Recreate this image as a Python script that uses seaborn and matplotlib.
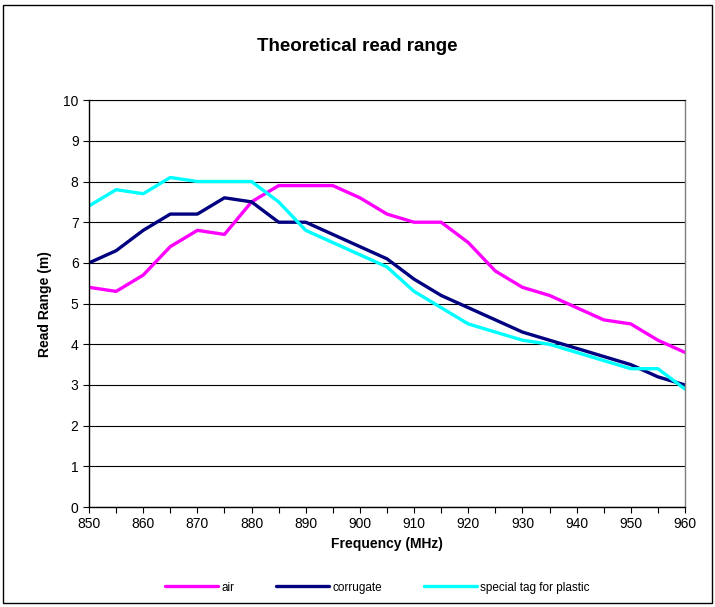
import numpy as np
import pandas as pd
import matplotlib
matplotlib.use('Agg')
import matplotlib.pyplot as plt
from matplotlib.patches import Rectangle
import seaborn as sns

# --- Data ---
freq = [850, 855, 860, 865, 870, 875, 880, 885, 890, 895, 900, 905,
        910, 915, 920, 925, 930, 935, 940, 945, 950, 955, 960]
air = [5.4, 5.3, 5.7, 6.4, 6.8, 6.7, 7.5, 7.9, 7.9, 7.9, 7.6, 7.2,
       7.0, 7.0, 6.5, 5.8, 5.4, 5.2, 4.9, 4.6, 4.5, 4.1, 3.8]
corrugate = [6.0, 6.3, 6.8, 7.2, 7.2, 7.6, 7.5, 7.0, 7.0, 6.7, 6.4, 6.1,
             5.6, 5.2, 4.9, 4.6, 4.3, 4.1, 3.9, 3.7, 3.5, 3.2, 3.0]
plastic = [7.4, 7.8, 7.7, 8.1, 8.0, 8.0, 8.0, 7.5, 6.8, 6.5, 6.2, 5.9,
           5.3, 4.9, 4.5, 4.3, 4.1, 4.0, 3.8, 3.6, 3.4, 3.4, 2.9]
series_names = ['air', 'corrugate', 'special tag for plastic']
series_colors = ['#FF00FF', '#000080', '#00FFFF']

df = pd.DataFrame({
    'Frequency (MHz)': freq * 3,
    'Read Range (m)': air + corrugate + plastic,
    'series': np.repeat(series_names, len(freq)),
})

sns.set_style('white')
plt.rcParams['font.family'] = ['Liberation Sans', 'DejaVu Sans']
plt.rcParams['text.color'] = 'black'
plt.rcParams['axes.labelcolor'] = 'black'
plt.rcParams['xtick.color'] = 'black'
plt.rcParams['ytick.color'] = 'black'

fig = plt.figure(figsize=(7.15, 6.07), dpi=100)
ax = fig.add_axes([0.1245, 0.1647, 0.8335, 0.6703])

sns.lineplot(data=df, x='Frequency (MHz)', y='Read Range (m)', hue='series',
             palette=dict(zip(series_names, series_colors)), linewidth=2.4,
             ax=ax, legend=False)

ax.set_xlim(850, 960)
ax.set_ylim(0, 10)
ax.set_xticks(range(850, 961, 10))
ax.set_xticks(range(850, 961, 5), minor=True)
ax.set_yticks(range(0, 11))
ax.tick_params(axis='both', which='both', direction='out', length=4, width=0.8,
               labelsize=10, color='black', labelcolor='black', bottom=True, left=True)
ax.yaxis.grid(True, color='black', linewidth=0.8)
ax.set_axisbelow(True)

for s in ['left', 'bottom']:
    ax.spines[s].set_color('black')
    ax.spines[s].set_linewidth(1.0)
ax.spines['right'].set_color('#808080')
ax.spines['right'].set_linewidth(1.0)
ax.spines['top'].set_color('black')
ax.spines['top'].set_linewidth(0.8)

ax.set_xlabel('Frequency (MHz)', fontsize=10, fontweight='bold', labelpad=4, color='black')
ax.set_ylabel('Read Range (m)', fontsize=10, fontweight='bold', labelpad=8, color='black')
fig.text(0.5, 0.924, 'Theoretical read range', ha='center', va='center',
         fontsize=13.5, fontweight='bold', color='black')

handles = [plt.Line2D([], [], color=c, linewidth=2.4) for c in series_colors]
fig.legend(handles, series_names, loc='center', bbox_to_anchor=(0.528, 0.032),
           ncol=3, frameon=False, fontsize=8.5, handlelength=4.5,
           columnspacing=3.5, handletextpad=0.3, labelcolor='black')

fig.patches.append(Rectangle((0.004, 0.006), 0.992, 0.985, transform=fig.transFigure,
                             fill=False, edgecolor='black', linewidth=1.0))

fig.savefig('out.png', dpi=100)
